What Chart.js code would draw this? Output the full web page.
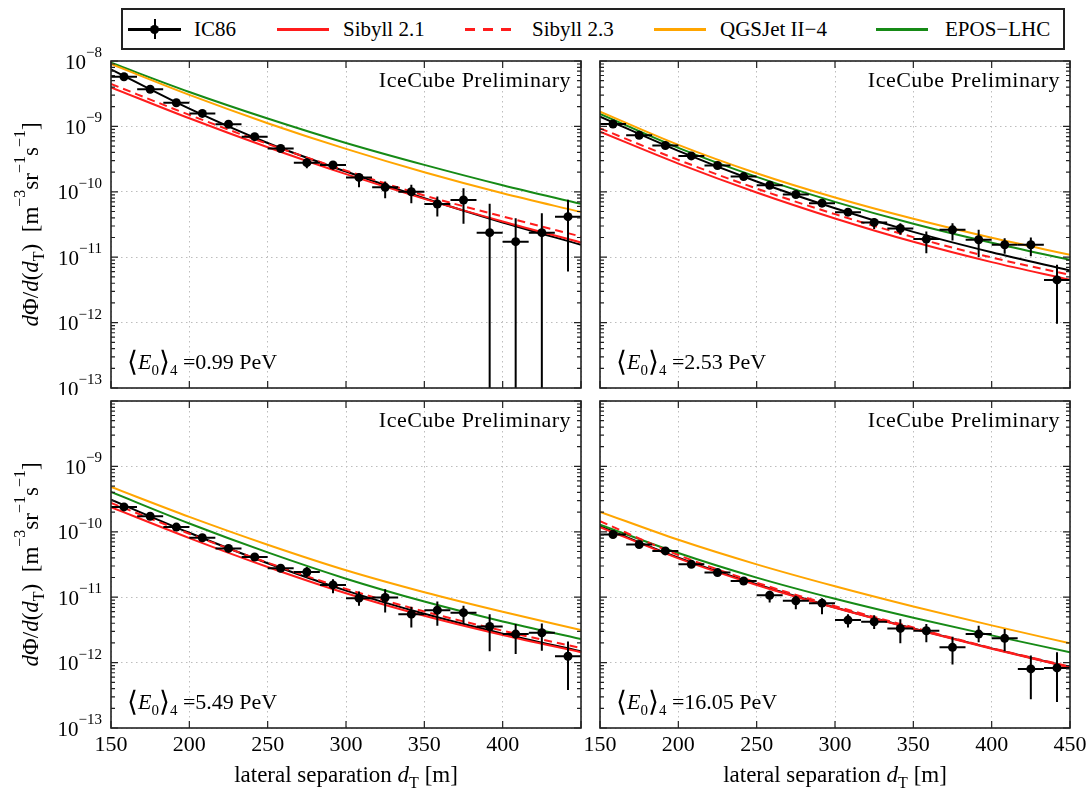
<!DOCTYPE html>
<html>
<head>
    <meta charset="UTF-8">
    <title>IC86 lateral separation spectra</title>
    <script src="https://cdn.jsdelivr.net/npm/chart.js@4.4.1/dist/chart.umd.min.js"></script>
    <style>
        body { margin: 0; background: #fff; font-family: 'Liberation Serif', serif; }
        .panel { position: absolute; }
        #legend { position: absolute; left: 121px; top: 8px; width: 940px; height: 38px; border: 2px solid #222; }
        .key { position: absolute; top: 0; font-size: 21px; line-height: 38px; color: #000; white-space: nowrap; }
        .swatch { position: absolute; top: 18px; height: 2.5px; }
    </style>
</head>
<body>
    <div id="legend">
        <div class="swatch" style="left:5px;width:53px;background:#000"></div>
        <div class="swatch" style="left:31px;top:9px;width:2px;height:20px;background:#000"></div>
        <div class="swatch" style="left:27px;top:15px;width:9px;height:9px;border-radius:50%;background:#000"></div>
        <span class="key" style="left:71px">IC86</span>
        <div class="swatch" style="left:154px;width:52px;background:#ff1c1c"></div>
        <span class="key" style="left:220px">Sibyll 2.1</span>
        <div class="swatch" style="left:342px;width:46px;background:repeating-linear-gradient(to right,#ff1c1c 0 10px,transparent 10px 18px)"></div>
        <span class="key" style="left:409px">Sibyll 2.3</span>
        <div class="swatch" style="left:531px;width:52px;background:#ffa500"></div>
        <span class="key" style="left:597px">QGSJet II−4</span>
        <div class="swatch" style="left:753px;width:52px;background:#168a16"></div>
        <span class="key" style="left:822px">EPOS−LHC</span>
    </div>

    <div class="panel" style="left:0;top:40px"><canvas id="c1" width="590" height="355"></canvas></div>
    <div class="panel" style="left:590px;top:40px"><canvas id="c2" width="496" height="355"></canvas></div>
    <div class="panel" style="left:0;top:395px"><canvas id="c3" width="590" height="394"></canvas></div>
    <div class="panel" style="left:570px;top:395px"><canvas id="c4" width="516" height="394"></canvas></div>

    <script type="text/javascript">
        // bin centres in lateral separation [m] and half bin width
        const dT = [158.3, 175.0, 191.7, 208.3, 225.0, 241.7, 258.3, 275.0, 291.7,
                    308.3, 325.0, 341.7, 358.3, 375.0, 391.7, 408.3, 425.0, 441.7];
        const binHalfWidth = 8.3;
        const modelX = [150, 200, 250, 300, 350, 400, 450];
        const xTicks = [150, 200, 250, 300, 350, 400, 450];
        const yDecades = [-13, -12, -11, -10, -9, -8];
        const energies = ['0.99', '2.53', '5.49', '16.05'];

        // <E0>_4 = 0.99 PeV
        const fluxA = [5.75e-9, 3.7e-9, 2.3e-9, 1.58e-9, 1.08e-9, 6.97e-10, 4.6e-10, 2.79e-10, 2.57e-10,
                       1.66e-10, 1.17e-10, 1.0e-10, 6.5e-11, 7.5e-11, 2.37e-11, 1.73e-11, 2.37e-11, 4.17e-11];
        const loA = [5.3e-9, 3.4e-9, 2.1e-9, 1.45e-9, 9.8e-10, 6.3e-10, 4.15e-10, 2.29e-10, 2.2e-10,
                     1.17e-10, 7.98e-11, 6.7e-11, 4.2e-11, 3.24e-11, 1e-14, 1e-14, 1e-14, 6.05e-12];
        const hiA = [6.2e-9, 4.0e-9, 2.5e-9, 1.72e-9, 1.18e-9, 7.7e-10, 5.1e-10, 3.25e-10, 2.9e-10,
                     1.92e-10, 1.44e-10, 1.28e-10, 8.5e-11, 1.13e-10, 6.55e-11, 3.95e-11, 4.71e-11, 7.53e-11];
        const sib21A = [3.96e-9, 1.33e-9, 4.8e-10, 1.86e-10, 7.8e-11, 3.52e-11, 1.68e-11];
        const sib23A = [4.46e-9, 1.5e-9, 5.4e-10, 2.11e-10, 8.8e-11, 4.2e-11, 2.07e-11];
        const qgsA = [9.0e-9, 3.03e-9, 1.12e-9, 4.53e-10, 1.99e-10, 9.5e-11, 4.9e-11];
        const eposA = [9.4e-9, 3.36e-9, 1.32e-9, 5.58e-10, 2.58e-10, 1.26e-10, 6.55e-11];
        const fitA = [7.46e-9, 1.87e-9, 5.58e-10, 2.04e-10, 7.98e-11, 3.4e-11, 1.55e-11];

        // <E0>_4 = 2.53 PeV
        const fluxB = [1.09e-9, 7.33e-10, 5.1e-10, 3.54e-10, 2.52e-10, 1.71e-10, 1.26e-10, 9.1e-11, 6.7e-11,
                       4.88e-11, 3.4e-11, 2.75e-11, 1.89e-11, 2.62e-11, 1.85e-11, 1.55e-11, 1.55e-11, 4.5e-12];
        const loB = [1.0e-9, 6.8e-10, 4.75e-10, 3.3e-10, 2.35e-10, 1.58e-10, 1.16e-10, 8.3e-11, 6.0e-11,
                     4.3e-11, 2.69e-11, 2.2e-11, 1.15e-11, 1.8e-11, 1.0e-11, 1.13e-11, 1.03e-11, 9.6e-13];
        const hiB = [1.18e-9, 7.9e-10, 5.5e-10, 3.8e-10, 2.7e-10, 1.85e-10, 1.37e-10, 1.0e-10, 7.5e-11,
                     5.5e-11, 3.95e-11, 3.31e-11, 2.47e-11, 3.3e-11, 2.62e-11, 1.95e-11, 2.0e-11, 7.65e-12];
        const sib21B = [8.3e-10, 2.7e-10, 9.75e-11, 3.91e-11, 1.72e-11, 8.41e-12, 4.52e-12];
        const sib23B = [9.35e-10, 3.08e-10, 1.12e-10, 4.55e-11, 2.03e-11, 9.9e-12, 5.38e-12];
        const qgsB = [1.68e-9, 5.21e-10, 1.92e-10, 8.17e-11, 3.86e-11, 1.98e-11, 1.09e-11];
        const eposB = [1.55e-9, 4.69e-10, 1.69e-10, 7.02e-11, 3.24e-11, 1.66e-11, 9.1e-12];
        const fitB = [1.41e-9, 4.22e-10, 1.44e-10, 5.61e-11, 2.44e-11, 1.19e-11, 6.27e-12];

        // <E0>_4 = 5.49 PeV
        const fluxC = [2.4e-10, 1.73e-10, 1.18e-10, 8.1e-11, 5.57e-11, 4.11e-11, 2.77e-11, 2.43e-11, 1.54e-11,
                       9.66e-12, 9.9e-12, 5.5e-12, 6.34e-12, 5.8e-12, 3.57e-12, 2.73e-12, 2.86e-12, 1.25e-12];
        const loC = [2.25e-10, 1.62e-10, 1.1e-10, 7.5e-11, 5.1e-11, 3.75e-11, 2.45e-11, 2.04e-11, 1.15e-11,
                     7.38e-12, 5.83e-12, 3.45e-12, 3.66e-12, 3.88e-12, 1.49e-12, 1.35e-12, 1.52e-12, 3.8e-13];
        const hiC = [2.56e-10, 1.85e-10, 1.27e-10, 8.75e-11, 6.1e-11, 4.5e-11, 3.1e-11, 2.9e-11, 1.88e-11,
                     1.22e-11, 1.32e-11, 7.13e-12, 8.6e-12, 7.38e-12, 5.5e-12, 3.88e-12, 3.97e-12, 2.11e-12];
        const sib21C = [2.38e-10, 8.02e-11, 2.9e-11, 1.15e-11, 5.2e-12, 2.64e-12, 1.44e-12];
        const sib23C = [2.77e-10, 9.33e-11, 3.37e-11, 1.34e-11, 6.05e-12, 3.07e-12, 1.67e-12];
        const qgsC = [4.84e-10, 1.69e-10, 6.34e-11, 2.58e-11, 1.19e-11, 5.98e-12, 3.14e-12];
        const eposC = [4.06e-10, 1.34e-10, 4.84e-11, 1.92e-11, 8.59e-12, 4.26e-12, 2.29e-12];
        const fitC = [3.1e-10, 9.66e-11, 3.3e-11, 1.26e-11, 5.57e-12, 2.77e-12, 1.49e-12];

        // <E0>_4 = 16.05 PeV
        const fluxD = [9.1e-11, 6.4e-11, 5.1e-11, 3.18e-11, 2.38e-11, 1.77e-11, 1.07e-11, 8.8e-12, 8.1e-12,
                       4.47e-12, 4.21e-12, 3.33e-12, 3.07e-12, 1.71e-12, 2.73e-12, 2.35e-12, 8.0e-13, 8.3e-13];
        const loD = [8.5e-11, 5.95e-11, 4.7e-11, 2.9e-11, 2.15e-11, 1.58e-11, 8.3e-12, 6.57e-12, 5.5e-12,
                     3.45e-12, 3.26e-12, 1.97e-12, 2.04e-12, 9.33e-13, 2.04e-12, 1.49e-12, 2.75e-13, 2.5e-13];
        const hiD = [9.8e-11, 6.9e-11, 5.5e-11, 3.5e-11, 2.65e-11, 2.0e-11, 1.25e-11, 1.05e-11, 9.66e-12,
                     5.5e-12, 5.32e-12, 4.62e-12, 3.88e-12, 2.49e-12, 3.66e-12, 3.26e-12, 1.28e-12, 1.44e-12];
        const sib21D = [1.18e-10, 3.93e-11, 1.54e-11, 6.89e-12, 3.29e-12, 1.63e-12, 8.4e-13];
        const sib23D = [1.45e-10, 4.41e-11, 1.67e-11, 7.3e-12, 3.45e-12, 1.67e-12, 8.7e-13];
        const qgsD = [2.02e-10, 7.55e-11, 3.18e-11, 1.47e-11, 7.21e-12, 3.71e-12, 1.97e-12];
        const eposD = [1.29e-10, 4.73e-11, 1.99e-11, 9.44e-12, 4.84e-12, 2.61e-12, 1.44e-12];
        const fitD = [1.22e-10, 4.02e-11, 1.58e-11, 6.97e-12, 3.33e-12, 1.65e-12, 8.5e-13];

        const FONT = "'Liberation Serif', serif";
        const RED = '#ff1c1c', ORANGE = '#ffa500', GREEN = '#168a16';

        // text with italic / sub / superscript pieces: [text, kind]
        function drawRich(ctx, parts, x, y, align, size) {
            const small = Math.round(size * 0.7);
            const fontFor = k => (k === 'i' ? 'italic ' : '') +
                (k === 'b' || k === 'p' ? small : k === 'g' ? Math.round(size * 1.25) : size) + 'px ' + FONT;
            let total = 0;
            parts.forEach(([t, k]) => { ctx.font = fontFor(k); total += ctx.measureText(t).width; });
            let cx = align === 'right' ? x - total : align === 'center' ? x - total / 2 : x;
            ctx.textAlign = 'left';
            ctx.textBaseline = 'alphabetic';
            parts.forEach(([t, k]) => {
                ctx.font = fontFor(k);
                const dy = k === 'b' ? size * 0.25 : k === 'p' ? -size * 0.55 : k === 'g' ? 2 : 0;
                ctx.fillText(t, cx, y + dy);
                cx += ctx.measureText(t).width;
            });
        }

        const yTitle = [['d', 'i'], ['Φ/', ''], ['d', 'i'], ['(', ''], ['d', 'i'], ['T', 'b'], [')  [m', ''],
                        ['−3', 'p'], ['sr', ''], ['−1', 'p'], ['s', ''], ['−1', 'p'], [']', '']];
        const xTitle = [['lateral separation ', ''], ['d', 'i'], ['T', 'b'], [' [m]', '']];

        function decor(p) {
            return {
                id: 'decor',
                afterDatasetsDraw(chart) {
                    const { ctx, chartArea: a, scales: { x, y } } = chart;
                    ctx.save();
                    ctx.beginPath();
                    ctx.rect(a.left, a.top, a.right - a.left, a.bottom - a.top);
                    ctx.clip();
                    ctx.strokeStyle = '#000';
                    ctx.lineWidth = 2;
                    ctx.beginPath();
                    dT.forEach((d, i) => {
                        const py = y.getPixelForValue(p.flux[i]);
                        ctx.moveTo(x.getPixelForValue(d - binHalfWidth), py);
                        ctx.lineTo(x.getPixelForValue(d + binHalfWidth), py);
                        const px = x.getPixelForValue(d);
                        ctx.moveTo(px, y.getPixelForValue(p.hi[i]));
                        ctx.lineTo(px, y.getPixelForValue(p.lo[i]));
                    });
                    ctx.stroke();
                    ctx.restore();
                },
                afterDraw(chart) {
                    const { ctx, chartArea: a, scales: { x, y } } = chart;
                    ctx.save();
                    ctx.strokeStyle = '#222';
                    ctx.lineWidth = 1.6;
                    ctx.strokeRect(a.left, a.top, a.right - a.left, a.bottom - a.top);

                    // ticks point inwards on all four sides
                    ctx.lineWidth = 1.2;
                    ctx.beginPath();
                    xTicks.forEach(v => {
                        const px = x.getPixelForValue(v);
                        ctx.moveTo(px, a.bottom); ctx.lineTo(px, a.bottom - 7);
                        ctx.moveTo(px, a.top); ctx.lineTo(px, a.top + 7);
                    });
                    yDecades.forEach(n => {
                        const py = y.getPixelForValue(Math.pow(10, n));
                        ctx.moveTo(a.left, py); ctx.lineTo(a.left + 7, py);
                        ctx.moveTo(a.right, py); ctx.lineTo(a.right - 7, py);
                        if (n < -8) {
                            for (let m = 2; m < 10; m++) {
                                const q = y.getPixelForValue(m * Math.pow(10, n));
                                ctx.moveTo(a.left, q); ctx.lineTo(a.left + 4, q);
                                ctx.moveTo(a.right, q); ctx.lineTo(a.right - 4, q);
                            }
                        }
                    });
                    ctx.stroke();

                    ctx.fillStyle = '#000';
                    if (p.yLabels) {
                        yDecades.forEach(n => {
                            if (p.skipTop && n === -8) return;
                            const py = y.getPixelForValue(Math.pow(10, n));
                            drawRich(ctx, [['10', ''], ['−' + Math.abs(n), 'p']], a.left - 9, py + 7.5, 'right', 21);
                        });
                        ctx.save();
                        ctx.translate(30, (a.top + a.bottom) / 2);
                        ctx.rotate(-Math.PI / 2);
                        drawRich(ctx, yTitle, 0, 8, 'center', 23);
                        ctx.restore();
                    }
                    if (p.xLabels) {
                        drawRich(ctx, xTitle, (a.left + a.right) / 2, a.bottom + 54, 'center', 23);
                    }

                    ctx.font = '22px ' + FONT;
                    ctx.letterSpacing = '0.5px';
                    ctx.textAlign = 'right';
                    ctx.textBaseline = 'alphabetic';
                    ctx.fillText('IceCube Preliminary', a.right - 10, a.top + 26);
                    ctx.letterSpacing = '0px';

                    drawRich(ctx, [['⟨', 'g'], ['E', 'i'], ['0', 'b'], ['⟩', 'g'], ['4', 'b'],
                                   [' =' + p.energy + ' PeV', '']], a.left + 16, a.bottom - 19, 'left', 22);
                    ctx.restore();
                }
            };
        }

        function curve(label, values, color, dash) {
            return {
                label: label,
                data: modelX.map((v, i) => ({ x: v, y: values[i] })),
                borderColor: color,
                borderWidth: 2,
                borderDash: dash,
                pointRadius: 0,
                fill: false,
                cubicInterpolationMode: 'monotone'
            };
        }

        function makePanel(p) {
            new Chart(document.getElementById(p.id), {
                type: 'line',
                data: {
                    datasets: [
                        {
                            label: 'IC86',
                            data: dT.map((v, i) => ({ x: v, y: p.flux[i] })),
                            showLine: false,
                            pointRadius: 4.5,
                            pointBackgroundColor: '#000',
                            pointBorderColor: '#000',
                            pointBorderWidth: 0
                        },
                        curve('Sibyll 2.1', p.sib21, RED, []),
                        curve('Sibyll 2.3', p.sib23, RED, [8, 5]),
                        curve('QGSJet II-4', p.qgs, ORANGE, []),
                        curve('EPOS-LHC', p.epos, GREEN, []),
                        curve('IC86 fit', p.fit, '#000', [])
                    ]
                },
                options: {
                    responsive: false,
                    animation: false,
                    layout: { padding: { left: 0, top: p.padT, right: p.padR, bottom: p.padB } },
                    plugins: { legend: { display: false }, tooltip: { enabled: false } },
                    scales: {
                        x: {
                            type: 'linear', min: 150, max: 450,
                            afterBuildTicks: s => { s.ticks = xTicks.map(v => ({ value: v })); },
                            ticks: {
                                display: p.xLabels, color: '#000', padding: 4, maxRotation: 0, autoSkip: false,
                                font: { family: FONT, size: 22 },
                                callback: v => (p.hideLast && v === 450) ? '' : String(v)
                            },
                            grid: { color: '#bdbdbd', lineWidth: 1, drawTicks: false },
                            border: { display: false, dash: [1.5, 3.5] },
                            afterFit: s => { s.height = p.xAxisH; s.paddingLeft = 0; s.paddingRight = 0; }
                        },
                        y: {
                            type: 'logarithmic', min: 1e-13, max: 1e-8,
                            afterBuildTicks: s => { s.ticks = yDecades.map(n => ({ value: Math.pow(10, n), major: true })); },
                            ticks: { display: false },
                            grid: { color: '#bdbdbd', lineWidth: 1, drawTicks: false },
                            border: { display: false, dash: [1.5, 3.5] },
                            afterFit: s => { s.width = p.yAxisW; s.paddingTop = 0; s.paddingBottom = 0; }
                        }
                    }
                },
                plugins: [decor(p)]
            });
        }

        [
            { id: 'c1', energy: energies[0], flux: fluxA, lo: loA, hi: hiA, sib21: sib21A, sib23: sib23A, qgs: qgsA, epos: eposA, fit: fitA,
              yLabels: true, skipTop: false, xLabels: false, hideLast: false, yAxisW: 111, padT: 21, padR: 9, xAxisH: 0, padB: 7 },
            { id: 'c2', energy: energies[1], flux: fluxB, lo: loB, hi: hiB, sib21: sib21B, sib23: sib23B, qgs: qgsB, epos: eposB, fit: fitB,
              yLabels: false, skipTop: false, xLabels: false, hideLast: false, yAxisW: 10, padT: 21, padR: 16, xAxisH: 0, padB: 7 },
            { id: 'c3', energy: energies[2], flux: fluxC, lo: loC, hi: hiC, sib21: sib21C, sib23: sib23C, qgs: qgsC, epos: eposC, fit: fitC,
              yLabels: true, skipTop: true, xLabels: true, hideLast: true, yAxisW: 111, padT: 6, padR: 9, xAxisH: 61, padB: 0 },
            { id: 'c4', energy: energies[3], flux: fluxD, lo: loD, hi: hiD, sib21: sib21D, sib23: sib23D, qgs: qgsD, epos: eposD, fit: fitD,
              yLabels: false, skipTop: false, xLabels: true, hideLast: false, yAxisW: 30, padT: 6, padR: 16, xAxisH: 61, padB: 0 }
        ].forEach(makePanel);
    </script>
</body>
</html>
